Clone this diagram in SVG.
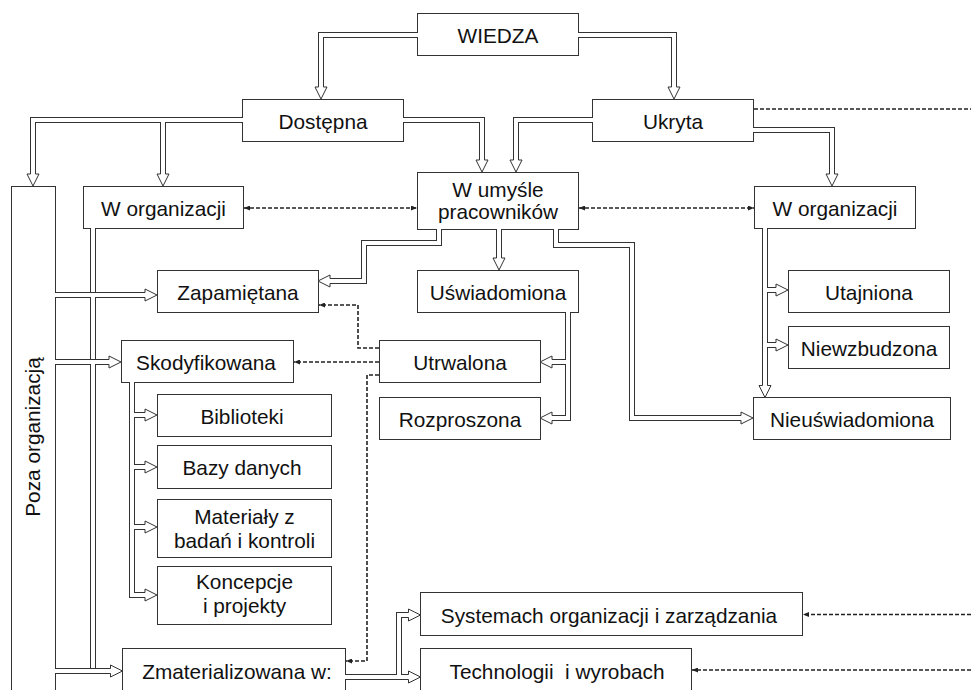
<svg xmlns="http://www.w3.org/2000/svg" xmlns:xlink="http://www.w3.org/1999/xlink" width="971" height="690" viewBox="0 0 971 690">
<style>
.box{fill:#fff;stroke:#333;stroke-width:1}
.t{font-family:"Liberation Sans",Arial,sans-serif;font-size:20.8px;fill:#111;text-anchor:middle}
.outer{fill:none;stroke:#333;stroke-width:6;stroke-linejoin:miter}
.inner{fill:none;stroke:#fff;stroke-width:4;stroke-linejoin:miter}
.ah{fill:#fff;stroke:#333;stroke-width:1}
.dash{fill:none;stroke:#222;stroke-width:1.6;stroke-dasharray:4 2}
</style>
<defs>
<marker id="sm" viewBox="0 0 6 5" refX="6" refY="2.5" markerWidth="6" markerHeight="5" markerUnits="userSpaceOnUse" orient="auto-start-reverse">
<path d="M0,0 L6,2.5 L0,5 z" fill="#222"/>
</marker>
<path id="ah" d="M-12,-2.5 L-12,-6 L0,0 L-12,6 L-12,2.5"/>
<path id="c1" d="M418,35 H321 V87.5"/>
<path id="c2" d="M578,35 H674 V87.5"/>
<path id="c3" d="M243,120 H33 V174.5"/>
<path id="c4" d="M163,120 V174.5"/>
<path id="c5" d="M403,120 H482 V160.5"/>
<path id="c6" d="M593,120 H516 V160.5"/>
<path id="c7" d="M753,130 H832 V174.5"/>
<path id="c8" d="M439,229 V243 H364 V281 H329.5"/>
<path id="c9" d="M499,229 V258.5"/>
<path id="c10" d="M556,229 V245 H632 V418 H741.5"/>
<path id="c11" d="M568,312 V418 H551.5"/>
<path id="c12" d="M568,362 H551.5"/>
<path id="c13" d="M765,228 V386"/>
<path id="c14" d="M765,290 H776.5"/>
<path id="c15" d="M765,345 H776.5"/>
<path id="c16" d="M55,295 H145.5"/>
<path id="c17" d="M55,362 H109.5"/>
<path id="c18" d="M55,671 H111"/>
<path id="c19" d="M93,228 V292"/>
<path id="c20" d="M93,295 V359"/>
<path id="c21" d="M93,362 V668"/>
<path id="c22" d="M132,382 V595 H145.5"/>
<path id="c23" d="M132,415 H145.5"/>
<path id="c24" d="M132,467 H145.5"/>
<path id="c25" d="M132,527 H145.5"/>
<path id="c26" d="M345,677 H409"/>
<path id="c27" d="M399,677 V615 H409"/>
</defs>
<rect width="971" height="690" fill="#fff"/>

<g id="n-wiedza"><rect class="box" x="417.5" y="13.5" width="161" height="42"/><text class="t" x="498" y="42.5">WIEDZA</text></g>
<g id="n-dostepna"><rect class="box" x="242.5" y="99.5" width="161" height="42"/><text class="t" x="323" y="128.5">Dostępna</text></g>
<g id="n-ukryta"><rect class="box" x="592.5" y="99.5" width="161" height="42"/><text class="t" x="673" y="128.5">Ukryta</text></g>
<g id="n-worg-l"><rect class="box" x="83.5" y="186.5" width="160" height="42"/><text class="t" x="163.5" y="216">W organizacji</text></g>
<g id="n-umysl"><rect class="box" x="417.5" y="172.5" width="161" height="57"/><text class="t" x="498" y="196.5">W umyśle</text><text class="t" x="498" y="219">pracowników</text></g>
<g id="n-worg-r"><rect class="box" x="754.5" y="186.5" width="161" height="42"/><text class="t" x="835" y="216">W organizacji</text></g>
<g id="n-poza"><rect class="box" x="11.5" y="186.5" width="44" height="520"/><text class="t" transform="translate(40,437) rotate(-90)">Poza organizacją</text></g>
<g id="n-zapamietana"><rect class="box" x="157.5" y="270.5" width="161" height="42"/><text class="t" x="238" y="299.5">Zapamiętana</text></g>
<g id="n-uswiadomiona"><rect class="box" x="417.5" y="270.5" width="161" height="42"/><text class="t" x="498" y="299.5">Uświadomiona</text></g>
<g id="n-utajniona"><rect class="box" x="788.5" y="270.5" width="161" height="42"/><text class="t" x="869" y="299.5">Utajniona</text></g>
<g id="n-niewzbudzona"><rect class="box" x="788.5" y="326.5" width="161" height="42"/><text class="t" x="869" y="355.5">Niewzbudzona</text></g>
<g id="n-skodyfikowana"><rect class="box" x="121.5" y="340.5" width="172" height="42"/><text class="t" x="206" y="369.5">Skodyfikowana</text></g>
<g id="n-utrwalona"><rect class="box" x="379.5" y="340.5" width="161" height="42"/><text class="t" x="460" y="369.5">Utrwalona</text></g>
<g id="n-biblioteki"><rect class="box" x="157.5" y="394.5" width="174" height="42"/><text class="t" x="242" y="423.5">Biblioteki</text></g>
<g id="n-rozproszona"><rect class="box" x="379.5" y="397.5" width="161" height="42"/><text class="t" x="460" y="426.5">Rozproszona</text></g>
<g id="n-nieuswiadomiona"><rect class="box" x="753.5" y="397.5" width="197" height="42"/><text class="t" x="852" y="426.5">Nieuświadomiona</text></g>
<g id="n-bazy"><rect class="box" x="157.5" y="445.5" width="174" height="43"/><text class="t" x="242" y="475">Bazy danych</text></g>
<g id="n-materialy"><rect class="box" x="157.5" y="499.5" width="174" height="58"/><text class="t" x="244.5" y="523.5">Materiały z</text><text class="t" x="244.5" y="547.5">badań i kontroli</text></g>
<g id="n-koncepcje"><rect class="box" x="157.5" y="566.5" width="174" height="58"/><text class="t" x="244.5" y="588.5">Koncepcje</text><text class="t" x="244.5" y="612.5">i projekty</text></g>
<g id="n-systemach"><rect class="box" x="420.5" y="592.5" width="382" height="43"/><text class="t" x="609" y="622.5">Systemach organizacji i zarządzania</text></g>
<g id="n-zmaterializowana"><rect class="box" x="122.5" y="648.5" width="223" height="60"/><text class="t" x="237" y="678.5">Zmaterializowana w:</text></g>
<g id="n-technologii"><rect class="box" x="420.5" y="648.5" width="271" height="60"/><text class="t" x="557" y="678.5" xml:space="preserve">Technologii  i wyrobach</text></g>

<g id="connectors">
<g class="outer">
<use href="#c1"/><use href="#c2"/><use href="#c3"/><use href="#c4"/><use href="#c5"/><use href="#c6"/><use href="#c7"/><use href="#c8"/><use href="#c9"/><use href="#c10"/><use href="#c11"/><use href="#c12"/><use href="#c13"/><use href="#c14"/><use href="#c15"/><use href="#c16"/><use href="#c17"/><use href="#c18"/><use href="#c19"/><use href="#c20"/><use href="#c21"/><use href="#c22"/><use href="#c23"/><use href="#c24"/><use href="#c25"/><use href="#c26"/><use href="#c27"/>
</g>
<g class="inner">
<use href="#c1"/><use href="#c2"/><use href="#c3"/><use href="#c4"/><use href="#c5"/><use href="#c6"/><use href="#c7"/><use href="#c8"/><use href="#c9"/><use href="#c10"/><use href="#c11"/><use href="#c12"/><use href="#c13"/><use href="#c14"/><use href="#c15"/><use href="#c16"/><use href="#c17"/><use href="#c18"/><use href="#c19"/><use href="#c20"/><use href="#c21"/><use href="#c22"/><use href="#c23"/><use href="#c24"/><use href="#c25"/><use href="#c26"/><use href="#c27"/>
</g>
<g class="ah">
<use href="#ah" transform="translate(321,99) rotate(90)"/>
<use href="#ah" transform="translate(674,99) rotate(90)"/>
<use href="#ah" transform="translate(33,186) rotate(90)"/>
<use href="#ah" transform="translate(163,186) rotate(90)"/>
<use href="#ah" transform="translate(482,172) rotate(90)"/>
<use href="#ah" transform="translate(516,172) rotate(90)"/>
<use href="#ah" transform="translate(832,186) rotate(90)"/>
<use href="#ah" transform="translate(318,281) rotate(180)"/>
<use href="#ah" transform="translate(499,270) rotate(90)"/>
<use href="#ah" transform="translate(753,418)"/>
<use href="#ah" transform="translate(540,418) rotate(180)"/>
<use href="#ah" transform="translate(540,362) rotate(180)"/>
<use href="#ah" transform="translate(765,397.5) rotate(90)"/>
<use href="#ah" transform="translate(788,290)"/>
<use href="#ah" transform="translate(788,345)"/>
<use href="#ah" transform="translate(157,295)"/>
<use href="#ah" transform="translate(121,362)"/>
<use href="#ah" transform="translate(122.5,671)"/>
<use href="#ah" transform="translate(157,595)"/>
<use href="#ah" transform="translate(157,415)"/>
<use href="#ah" transform="translate(157,467)"/>
<use href="#ah" transform="translate(157,527)"/>
<use href="#ah" transform="translate(420.5,677)"/>
<use href="#ah" transform="translate(420.5,615)"/>
</g>
<g class="dash">
<path d="M244,208 H417" marker-start="url(#sm)" marker-end="url(#sm)"/>
<path d="M579,208 H754" marker-start="url(#sm)" marker-end="url(#sm)"/>
<path d="M754,109 H971"/>
<path d="M379,348 H358 V305 H319" marker-end="url(#sm)"/>
<path d="M379,362 H294" marker-end="url(#sm)"/>
<path d="M379,375 H367 V661 H346" marker-end="url(#sm)"/>
<path d="M971,614.5 H803" marker-end="url(#sm)"/>
<path d="M971,670 H692" marker-end="url(#sm)"/>
</g>
</g>
</svg>
